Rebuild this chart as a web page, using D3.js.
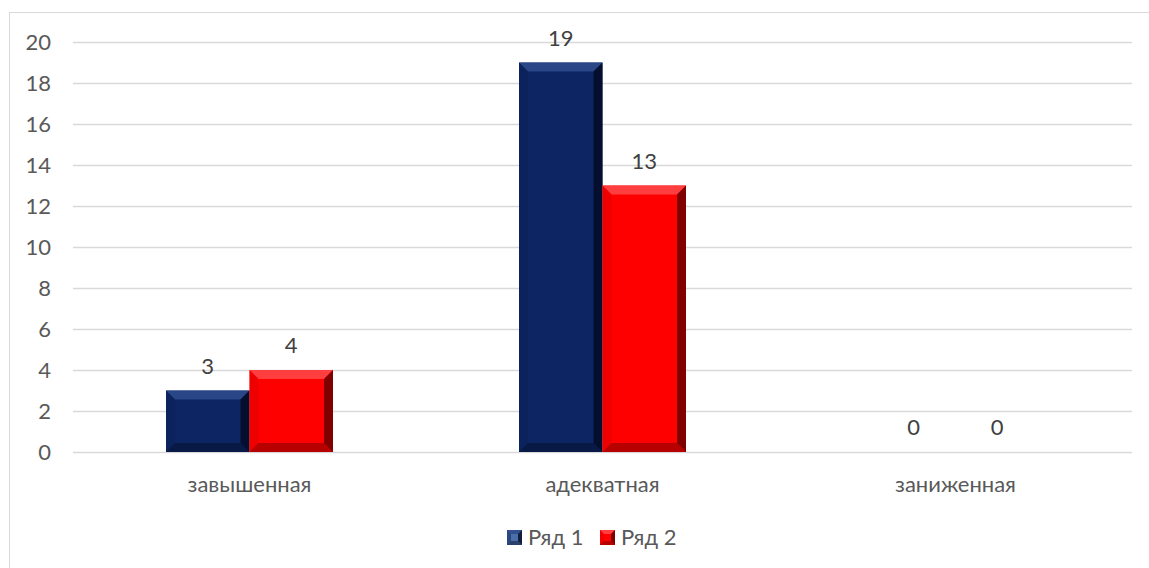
<!DOCTYPE html>
<html><head><meta charset="utf-8">
<script src="https://cdn.jsdelivr.net/npm/d3@7"></script>
<style>body{margin:0;background:#fff}svg text{font-family:Lato,"Open Sans",sans-serif;fill:#595959}</style>
</head><body>
<svg id="c" width="1149" height="568"></svg>
<script>
const categories = ["завышенная","адекватная","заниженная"];
const seriesNames = ["Ряд 1","Ряд 2"];
const series1 = [3,19,0];
const series2 = [4,13,0];
const yTicks = [0,2,4,6,8,10,12,14,16,18,20];

const colors = ["#0d2563","#ff0000"];
const light = ["#2f4c8c","#ff4a4a"];
const dark = ["#020a22","#600000"];
const mid = ["#0a1f55","#e00000"];
const FS = 22;

const svg = d3.select("#c");
svg.append("rect").attr("x",9.5).attr("y",12.5).attr("width",1160).attr("height",600)
  .attr("fill","none").attr("stroke","#d9d9d9");

const L=73,R=1132,T=42,B=452;
const y = d3.scaleLinear().domain([0,20]).range([B,T]);
const x0 = d3.scaleBand().domain(categories).range([L,R]).padding(0);
const bw = x0.bandwidth();
const x1 = d3.scaleBand().domain([0,1]).range([bw*0.2635,bw*0.7365]).padding(0);

const yAxis = d3.axisLeft(y).tickValues(yTicks).tickSize(-(R-L)).tickPadding(22);
const ga = svg.append("g").attr("transform",`translate(${L},0)`).call(yAxis);
ga.select(".domain").remove();
ga.selectAll("line").attr("stroke","#d9d9d9").attr("stroke-width",1.3);
ga.selectAll("text").attr("font-size",FS).style("fill","#595959").attr("dy","0.36em");

const xAxis = d3.axisBottom(x0).tickSize(0).tickPadding(0);
const gx = svg.append("g").attr("transform",`translate(0,${B})`).call(xAxis);
gx.select(".domain").remove();
gx.selectAll("text").attr("font-size",FS).style("fill","#595959").attr("dy",null).attr("y",40);

function bevelBar(g, bx, by, w, h, i, bv, base){
  const b = Math.min(bv, w/2, h/2);
  g.append("rect").attr("x",bx).attr("y",by).attr("width",w).attr("height",h).attr("fill",base||colors[i]);
  if(h<=0) return;
  const pts = (a)=>a.map(p=>p.join(",")).join(" ");
  g.append("polygon").attr("points",pts([[bx,by],[bx+w,by],[bx+w-b,by+b],[bx+b,by+b]])).attr("fill",light[i]).attr("opacity",0.85);
  g.append("polygon").attr("points",pts([[bx,by],[bx+b,by+b],[bx+b,by+h-b],[bx,by+h]])).attr("fill",mid[i]).attr("opacity",0.5);
  g.append("polygon").attr("points",pts([[bx+w,by],[bx+w,by+h],[bx+w-b,by+h-b],[bx+w-b,by+b]])).attr("fill",dark[i]).attr("opacity",0.8);
  g.append("polygon").attr("points",pts([[bx,by+h],[bx+b,by+h-b],[bx+w-b,by+h-b],[bx+w,by+h]])).attr("fill",dark[i]).attr("opacity",0.45);
}

const data = categories.map((c,k)=>({c, v:[series1[k],series2[k]]}));
const gb = svg.append("g");
data.forEach(d=>{
  d.v.forEach((v,i)=>{
    const bx = x0(d.c)+x1(i), w = x1.bandwidth();
    if(v>0) bevelBar(gb, bx, y(v), w, y(0)-y(v), i, 9);
    gb.append("text").attr("x",bx+w/2).attr("y",y(v)-17).attr("text-anchor","middle")
      .attr("font-size",FS).style("fill","#404040").text(v);
  });
});

const lg = svg.append("g");
const lx=[507,600];
const legendBase=["#4a6ea8","#ff0000"];
seriesNames.forEach((n,i)=>{
  bevelBar(lg, lx[i], 530, 15, 15, i, 4, legendBase[i]);
  lg.append("text").attr("x",lx[i]+21).attr("y",545).attr("font-size",FS).style("fill","#595959").text(n);
});
</script>
</body></html>
